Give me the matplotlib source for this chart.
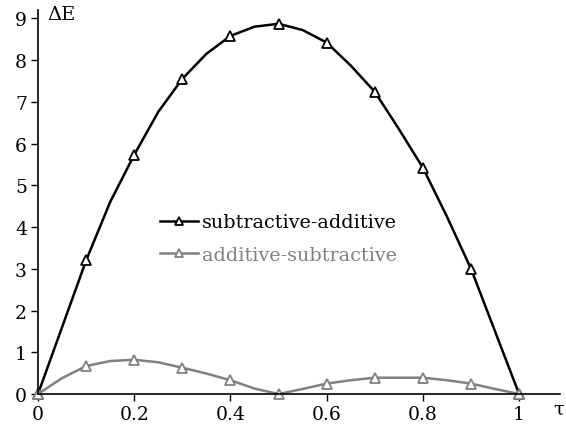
import matplotlib
matplotlib.use("Agg")
import matplotlib.pyplot as plt

tau = [0.0, 0.05, 0.1, 0.15, 0.2, 0.25, 0.3, 0.35, 0.4, 0.45, 0.5,
       0.55, 0.6, 0.65, 0.7, 0.75, 0.8, 0.85, 0.9, 0.95, 1.0]
sub_add = [0.0, 1.6, 3.2, 4.6, 5.73, 6.76, 7.55, 8.15, 8.58, 8.8, 8.87,
           8.72, 8.42, 7.87, 7.24, 6.35, 5.42, 4.25, 3.0, 1.5, 0.0]
add_sub = [0.0, 0.38, 0.67, 0.79, 0.82, 0.76, 0.63, 0.49, 0.33, 0.13, 0.0,
           0.12, 0.25, 0.33, 0.39, 0.39, 0.39, 0.33, 0.25, 0.12, 0.0]
tau_marks = [0.0, 0.1, 0.2, 0.3, 0.4, 0.5, 0.6, 0.7, 0.8, 0.9, 1.0]
x_ticks = [0, 0.2, 0.4, 0.6, 0.8, 1]
x_labels = ["0", "0.2", "0.4", "0.6", "0.8", "1"]
y_ticks = list(range(10))

plt.rcParams['font.family'] = ['DejaVu Serif']
fig = plt.figure(figsize=(5.66, 4.31), dpi=100)
ax = fig.add_axes([38/566, 36/431, 522/566, 384/431])

def marks(vals):
    return [vals[tau.index(t)] for t in tau_marks]

gray = '#808080'
ax.plot(tau, sub_add, color='black', lw=1.8, clip_on=False)
ax.plot(tau_marks, marks(sub_add), ls='none', marker='^', mfc='white', mec='black',
        mew=1.3, ms=7, clip_on=False)
ax.plot(tau, add_sub, color=gray, lw=1.8, clip_on=False)
ax.plot(tau_marks, marks(add_sub), ls='none', marker='^', mfc='white', mec=gray,
        mew=1.3, ms=7, clip_on=False)

# legend proxies
h1, = ax.plot([], [], color='black', lw=1.8, marker='^', mfc='white', mec='black', mew=1.3, ms=6)
h2, = ax.plot([], [], color=gray, lw=1.8, marker='^', mfc='white', mec=gray, mew=1.3, ms=6)
leg = ax.legend([h1, h2], ['subtractive-additive', 'additive-subtractive'],
                frameon=False, loc='upper left', bbox_to_anchor=(0.2, 0.515),
                fontsize=13.8, handlelength=2.0, handletextpad=0.2, labelspacing=0.75)
for t, c in zip(leg.get_texts(), ['black', gray]):
    t.set_color(c)

ax.set_xlim(0, 1.085)
ax.set_ylim(0, 9.2)
ax.set_xticks(x_ticks)
ax.set_xticklabels(x_labels)
ax.set_yticks(y_ticks)
for s in ['top', 'right']:
    ax.spines[s].set_visible(False)
for s in ['left', 'bottom']:
    ax.spines[s].set_linewidth(1.2)
ax.tick_params(direction='out', length=5, width=1, labelsize=13.5, pad=3)

ax.text(0.02, 9.1, 'ΔE', fontsize=14, ha='left', va='center')
fig.text(564/566, 1 - 410/431, 'τ', fontsize=14, ha='right', va='center')

fig.savefig('out.png', dpi=100)
